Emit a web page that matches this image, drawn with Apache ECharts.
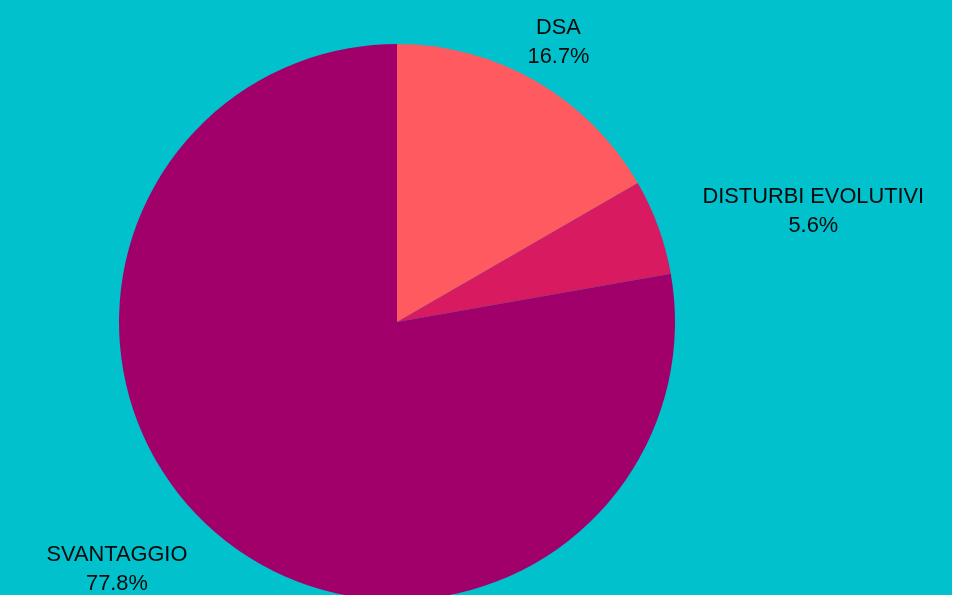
<!DOCTYPE html>
<html>
<head>
<meta charset="utf-8">
<script src="https://cdn.jsdelivr.net/npm/echarts@6/dist/echarts.min.js"></script>
<style>
html,body{margin:0;padding:0;background:#ffffff;}
#chart{width:952px;height:595px;}
</style>
</head>
<body>
<div id="chart"></div>
<script>
const categories = ['DSA', 'DISTURBI EVOLUTIVI', 'SVANTAGGIO'];
const values = [3, 1, 14];
const colors = ['#FF5A5F', '#D81A60', '#A1006B'];

const total = values.reduce((a, b) => a + b, 0);
const chart = echarts.init(document.getElementById('chart'), null, {renderer: 'canvas'});
chart.setOption({
  backgroundColor: '#00C1CC',
  animation: false,
  series: [{
    type: 'pie',
    center: [397, 322],
    radius: 278,
    startAngle: 90,
    clockwise: true,
    avoidLabelOverlap: false,
    itemStyle: {borderWidth: 0},
    label: {
      show: true,
      position: 'outside',
      color: '#0a0a0a',
      fontFamily: '"Liberation Sans", Arial, sans-serif',
      fontSize: 21.8,
      lineHeight: 29,
      distanceToLabelLine: 2,
      formatter: p => p.name + '\n' + (p.value / total * 100).toFixed(1) + '%'
    },
    labelLine: {show: false, length: 45, length2: 0},
    labelLayout: function (p) {
      const r = p.labelRect;
      if (p.dataIndex === 0) {
        return {x: r.x - 2, y: r.y + r.height / 2, align: 'center', verticalAlign: 'middle'};
      }
      return {x: r.x + r.width / 2, y: r.y + r.height / 2, align: 'center', verticalAlign: 'middle'};
    },
    data: categories.map((c, i) => ({name: c, value: values[i], itemStyle: {color: colors[i]}}))
  }]
});
</script>
</body>
</html>
